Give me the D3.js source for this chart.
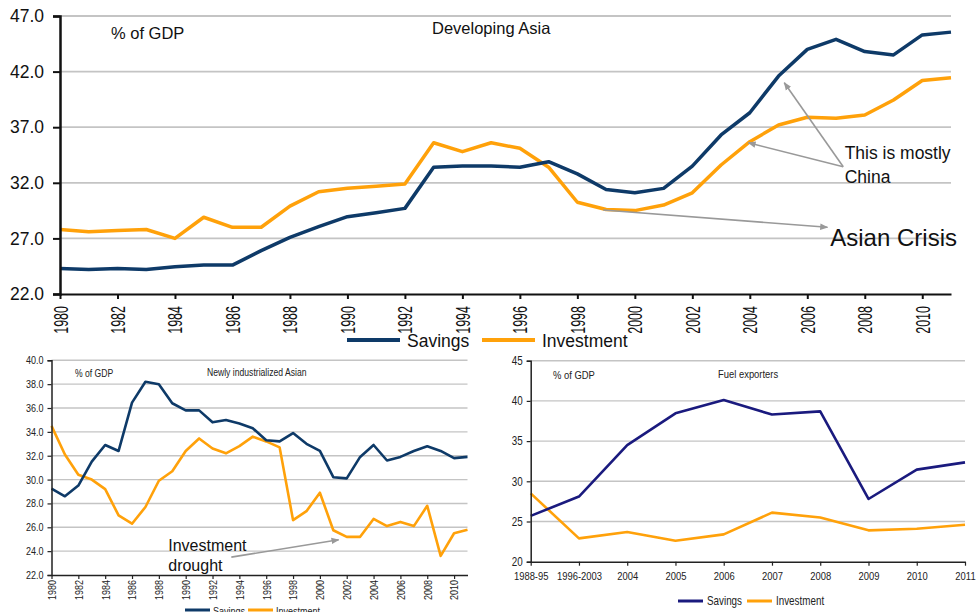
<!DOCTYPE html>
<html>
<head>
<meta charset="utf-8">
<script src="https://cdn.jsdelivr.net/npm/d3@7"></script>
<style>
  body { margin: 0; background: #fff; }
  svg { display: block; }
  .sans { font-family: "Liberation Sans", Arial, sans-serif; fill: #111; }
  .narrow { font-family: "Liberation Sans", Arial, sans-serif; fill: #222; }
</style>
</head>
<body>
<div id="chart"></div>
<script>
// Categories
const years = [1980, 1981, 1982, 1983, 1984, 1985, 1986, 1987, 1988, 1989, 1990, 1991, 1992, 1993, 1994, 1995,
  1996, 1997, 1998, 1999, 2000, 2001, 2002, 2003, 2004, 2005, 2006, 2007, 2008, 2009, 2010, 2011];
const fuelPeriods = ["1988-95", "1996-2003", "2004", "2005", "2006", "2007", "2008", "2009", "2010", "2011"];

// Developing Asia, % of GDP
const devAsiaSavings = [24.3, 24.2, 24.3, 24.2, 24.45, 24.6, 24.6, 25.9, 27.1, 28.05, 28.95, 29.3, 29.7, 33.4, 33.5, 33.5,
  33.4, 33.9, 32.8, 31.4, 31.1, 31.5, 33.5, 36.3, 38.3, 41.6, 44.0, 44.9, 43.8, 43.5, 45.3, 45.55];
const devAsiaInvestment = [27.8, 27.6, 27.7, 27.8, 27.0, 28.9, 28.0, 28.0, 29.9, 31.2, 31.5, 31.7, 31.9, 35.6, 34.8, 35.6,
  35.1, 33.4, 30.25, 29.6, 29.5, 30.0, 31.1, 33.6, 35.7, 37.2, 37.9, 37.8, 38.1, 39.45, 41.2, 41.45];

// Newly industrialized Asian, % of GDP
const niaSavings = [29.25, 28.6, 29.5, 31.5, 32.9, 32.4, 36.45, 38.2, 38.0, 36.4, 35.8, 35.8, 34.8, 35.0, 34.7, 34.3,
  33.3, 33.2, 33.9, 33.0, 32.4, 30.2, 30.1, 31.9, 32.9, 31.6, 31.9, 32.4, 32.8, 32.4, 31.8, 31.9];
const niaInvestment = [34.5, 32.1, 30.4, 30.0, 29.2, 27.0, 26.3, 27.7, 29.9, 30.7, 32.4, 33.45, 32.6, 32.2, 32.8, 33.6,
  33.2, 32.7, 26.6, 27.35, 28.9, 25.75, 25.2, 25.2, 26.7, 26.1, 26.45, 26.1, 27.8, 23.6, 25.5, 25.8];

// Fuel exporters, % of GDP
const fuelSavings = [25.7, 28.1, 34.5, 38.45, 40.1, 38.3, 38.7, 27.8, 31.45, 32.35];
const fuelInvestment = [28.5, 22.9, 23.7, 22.6, 23.4, 26.1, 25.5, 23.9, 24.1, 24.6];

// Tick values
const devAsiaTicks = [22, 27, 32, 37, 42, 47];
const niaTicks = [22, 24, 26, 28, 30, 32, 34, 36, 38, 40];
const fuelTicks = [20, 25, 30, 35, 40, 45];
const seriesNames = ["Savings", "Investment"];

const navy = '#0e3a68';
const navyFuel = '#1a1a7e';
const orange = '#ffa10a';
const gridColor = '#c4c4c4';
const arrowColor = '#999';

const width = 977;
const height = 612;

const svg = d3.select('#chart')
  .append('svg')
    .attr('width', width)
    .attr('height', height)
    .attr('viewBox', [0, 0, width, height]);

svg.append('rect').attr('width', width).attr('height', height).attr('fill', '#fff');

// Arrow head
svg.append('defs')
  .append('marker')
    .attr('id', 'arrow')
    .attr('viewBox', '0 0 10 10')
    .attr('refX', 9)
    .attr('refY', 5)
    .attr('markerWidth', 5)
    .attr('markerHeight', 5)
    .attr('orient', 'auto')
  .append('path')
    .attr('d', 'M0,1 L10,5 L0,9 Z')
    .attr('fill', arrowColor);

function drawArrow(g, x, y, from, to, w) {
  g.append('line')
    .attr('x1', x(from[0])).attr('y1', y(from[1]))
    .attr('x2', x(to[0])).attr('y2', y(to[1]))
    .attr('stroke', arrowColor)
    .attr('stroke-width', w)
    .attr('marker-end', 'url(#arrow)');
}

// no narrow font installed, so squeeze the glyphs sideways instead
function narrow(sel, sx = 0.82) {
  sel.each(function() {
    const t = d3.select(this);
    const x = +t.attr('x') || 0;
    const y = +t.attr('y') || 0;
    const prev = t.attr('transform') || '';
    t.attr('x', 0).attr('y', 0)
      .attr('transform', `${prev} translate(${x},${y}) scale(${sx},1)`);
  });
}

// ---------- Developing Asia (top) ----------
const topX = d3.scaleLinear().domain([1980, 2011]).range([60, 951]);
const topY = d3.scaleLinear().domain([22, 47]).range([294, 16]);
const devAsia = svg.append('g');

devAsia.selectAll('.grid')
  .data(devAsiaTicks.slice(1))
  .join('line')
    .attr('x1', topX(1980)).attr('x2', topX(2011))
    .attr('y1', d => topY(d)).attr('y2', d => topY(d))
    .attr('stroke', gridColor)
    .attr('stroke-width', 1.8);

const topLine = d3.line().x((d, i) => topX(years[i])).y(d => topY(d));
devAsia.append('path').datum(devAsiaInvestment)
  .attr('d', topLine).attr('fill', 'none').attr('stroke', orange).attr('stroke-width', 3.5).attr('stroke-linejoin', 'round');
devAsia.append('path').datum(devAsiaSavings)
  .attr('d', topLine).attr('fill', 'none').attr('stroke', navy).attr('stroke-width', 3.5).attr('stroke-linejoin', 'round');

const topYAxis = devAsia.append('g')
  .attr('transform', `translate(${topX(1980)},0)`)
  .call(d3.axisLeft(topY).tickValues(devAsiaTicks).tickFormat(d3.format('.1f')).tickSize(7).tickPadding(9));
topYAxis.selectAll('text').attr('class', 'sans').attr('font-size', 17.5).attr('fill', '#111');
topYAxis.selectAll('line').attr('stroke', '#111').attr('stroke-width', 2);
topYAxis.select('.domain').attr('stroke', '#111').attr('stroke-width', 2.5);

const topXAxis = devAsia.append('g')
  .attr('transform', `translate(0,${topY(22)})`)
  .call(d3.axisBottom(topX).tickValues(years.filter(d => d % 2 === 0)).tickFormat(d3.format('d')).tickSize(5).tickSizeOuter(0));
topXAxis.select('.domain').attr('stroke', '#111').attr('stroke-width', 2.2);
topXAxis.selectAll('line').attr('stroke', '#111').attr('stroke-width', 2);
topXAxis.selectAll('text')
  .attr('class', 'sans')
  .attr('font-size', 12.5)
  .attr('fill', '#111')
  .attr('text-anchor', 'end')
  .attr('dy', '0.35em')
  .attr('y', 0)
  .attr('transform', 'translate(0,12) rotate(-90) scale(1,1.6)');

devAsia.append('text').attr('class', 'sans').attr('x', 111).attr('y', 39).attr('font-size', 16.5).text('% of GDP');
devAsia.append('text').attr('class', 'sans').attr('x', 432).attr('y', 34).attr('font-size', 16.5).text('Developing Asia');

devAsia.append('text').attr('class', 'sans').attr('x', topX(2007.3)).attr('y', topY(34.1)).attr('font-size', 17.5).text('This is mostly');
devAsia.append('text').attr('class', 'sans').attr('x', topX(2007.3)).attr('y', topY(31.95)).attr('font-size', 17.5).text('China');
devAsia.append('text').attr('class', 'sans').attr('x', topX(2006.8)).attr('y', topY(26.3)).attr('font-size', 24).text('Asian Crisis');

drawArrow(devAsia, topX, topY, [2007.25, 33.45], [2005.2, 41.0], 1.6);
drawArrow(devAsia, topX, topY, [2007.25, 33.45], [2003.95, 35.6], 1.6);
drawArrow(devAsia, topX, topY, [1998.9, 29.55], [2006.7, 28.0], 1.6);

// top legend
const topLegend = [
  { name: seriesNames[0], color: navy, x: 347 },
  { name: seriesNames[1], color: orange, x: 482 }
];
topLegend.forEach(l => {
  devAsia.append('line').attr('x1', l.x).attr('x2', l.x + 53).attr('y1', 340).attr('y2', 340)
    .attr('stroke', l.color).attr('stroke-width', 4);
  devAsia.append('text').attr('class', 'sans').attr('x', l.x + 60).attr('y', 347).attr('font-size', 17.5).text(l.name);
});

// ---------- Newly industrialized Asian (bottom left) ----------
const niaX = d3.scaleLinear().domain([1980, 2011]).range([51.5, 467.5]);
const niaY = d3.scaleLinear().domain([22, 40]).range([575, 360.3]);
const nia = svg.append('g');

nia.selectAll('.grid')
  .data(niaTicks.slice(1))
  .join('line')
    .attr('x1', niaX(1980)).attr('x2', niaX(2011))
    .attr('y1', d => niaY(d)).attr('y2', d => niaY(d))
    .attr('stroke', gridColor)
    .attr('stroke-width', 1.4);

const niaLine = d3.line().x((d, i) => niaX(years[i])).y(d => niaY(d));
nia.append('path').datum(niaInvestment)
  .attr('d', niaLine).attr('fill', 'none').attr('stroke', orange).attr('stroke-width', 2.6).attr('stroke-linejoin', 'round');
nia.append('path').datum(niaSavings)
  .attr('d', niaLine).attr('fill', 'none').attr('stroke', navy).attr('stroke-width', 2.6).attr('stroke-linejoin', 'round');

const niaYAxis = nia.append('g')
  .attr('transform', `translate(${niaX(1980)},0)`)
  .call(d3.axisLeft(niaY).tickValues(niaTicks).tickFormat(d3.format('.1f')).tickSize(4).tickPadding(4));
niaYAxis.selectAll('text').attr('class', 'narrow').attr('font-size', 11).attr('fill', '#222').call(narrow);
niaYAxis.selectAll('line').attr('stroke', '#222').attr('stroke-width', 1.2);
niaYAxis.select('.domain').attr('stroke', '#222').attr('stroke-width', 1.5);

const niaXAxis = nia.append('g')
  .attr('transform', `translate(0,${niaY(22)})`)
  .call(d3.axisBottom(niaX).tickValues(years.filter(d => d % 2 === 0)).tickFormat(d3.format('d')).tickSize(4).tickSizeOuter(0));
niaXAxis.select('.domain').attr('stroke', '#222').attr('stroke-width', 1.5);
niaXAxis.selectAll('line').attr('stroke', '#222').attr('stroke-width', 1.2);
niaXAxis.selectAll('text')
  .attr('class', 'narrow')
  .attr('font-size', 11)
  .attr('fill', '#222')
  .attr('text-anchor', 'end')
  .attr('dy', '0.35em')
  .attr('y', 0)
  .attr('transform', 'translate(0,5) rotate(-90)')
  .call(narrow);

nia.append('text').attr('class', 'narrow').attr('x', 75).attr('y', 377).attr('font-size', 10.5).text('% of GDP').call(narrow);
nia.append('text').attr('class', 'narrow').attr('x', 207).attr('y', 376).attr('font-size', 10.5).text('Newly industrialized Asian').call(narrow);
nia.append('text').attr('class', 'sans').attr('x', niaX(1988.7)).attr('y', niaY(24.04)).attr('font-size', 16).text('Investment');
nia.append('text').attr('class', 'sans').attr('x', niaX(1988.7)).attr('y', niaY(22.36)).attr('font-size', 16).text('drought');
drawArrow(nia, niaX, niaY, [1993.4, 23.5], [2001.4, 24.95], 1.6);

const niaLegend = [
  { name: seriesNames[0], color: navy, x: 185 },
  { name: seriesNames[1], color: orange, x: 248 }
];
niaLegend.forEach(l => {
  nia.append('line').attr('x1', l.x).attr('x2', l.x + 25).attr('y1', 610).attr('y2', 610)
    .attr('stroke', l.color).attr('stroke-width', 3);
  nia.append('text').attr('class', 'narrow').attr('x', l.x + 28).attr('y', 615).attr('font-size', 11).text(l.name).call(narrow);
});

// ---------- Fuel exporters (bottom right) ----------
const fuelX = d3.scalePoint().domain(fuelPeriods).range([530.7, 965]);
const fuelY = d3.scaleLinear().domain([20, 45]).range([561.7, 360.7]);
const fuel = svg.append('g');

fuel.selectAll('.grid')
  .data(fuelTicks.slice(1))
  .join('line')
    .attr('x1', fuelX(fuelPeriods[0])).attr('x2', fuelX(fuelPeriods[fuelPeriods.length - 1]))
    .attr('y1', d => fuelY(d)).attr('y2', d => fuelY(d))
    .attr('stroke', gridColor)
    .attr('stroke-width', 1.4);

const fuelLine = d3.line().x((d, i) => fuelX(fuelPeriods[i])).y(d => fuelY(d));
fuel.append('path').datum(fuelInvestment)
  .attr('d', fuelLine).attr('fill', 'none').attr('stroke', orange).attr('stroke-width', 2.6).attr('stroke-linejoin', 'round');
fuel.append('path').datum(fuelSavings)
  .attr('d', fuelLine).attr('fill', 'none').attr('stroke', navyFuel).attr('stroke-width', 2.6).attr('stroke-linejoin', 'round');

const fuelYAxis = fuel.append('g')
  .attr('transform', `translate(${fuelX(fuelPeriods[0])},0)`)
  .call(d3.axisLeft(fuelY).tickValues(fuelTicks).tickSize(4).tickPadding(4));
fuelYAxis.selectAll('text').attr('class', 'narrow').attr('font-size', 12).attr('fill', '#222').call(narrow);
fuelYAxis.selectAll('line').attr('stroke', '#222').attr('stroke-width', 1.2);
fuelYAxis.select('.domain').attr('stroke', '#222').attr('stroke-width', 1.5);

const fuelXAxis = fuel.append('g')
  .attr('transform', `translate(0,${fuelY(20)})`)
  .call(d3.axisBottom(fuelX).tickSize(4).tickSizeOuter(0).tickPadding(6));
fuelXAxis.select('.domain').attr('stroke', '#222').attr('stroke-width', 1.5);
fuelXAxis.selectAll('line').attr('stroke', '#222').attr('stroke-width', 1.2);
fuelXAxis.selectAll('text').attr('class', 'narrow').attr('font-size', 11.5).attr('fill', '#222').call(narrow);

fuel.append('text').attr('class', 'narrow').attr('x', 553).attr('y', 379).attr('font-size', 11.5).text('% of GDP').call(narrow);
fuel.append('text').attr('class', 'narrow').attr('x', 718).attr('y', 378).attr('font-size', 11.5).text('Fuel exporters').call(narrow);

const fuelLegend = [
  { name: seriesNames[0], color: navyFuel, x: 678 },
  { name: seriesNames[1], color: orange, x: 747 }
];
fuelLegend.forEach(l => {
  fuel.append('line').attr('x1', l.x).attr('x2', l.x + 25).attr('y1', 601).attr('y2', 601)
    .attr('stroke', l.color).attr('stroke-width', 3);
  fuel.append('text').attr('class', 'narrow').attr('x', l.x + 29).attr('y', 605).attr('font-size', 12).text(l.name).call(narrow);
});
</script>
</body>
</html>
